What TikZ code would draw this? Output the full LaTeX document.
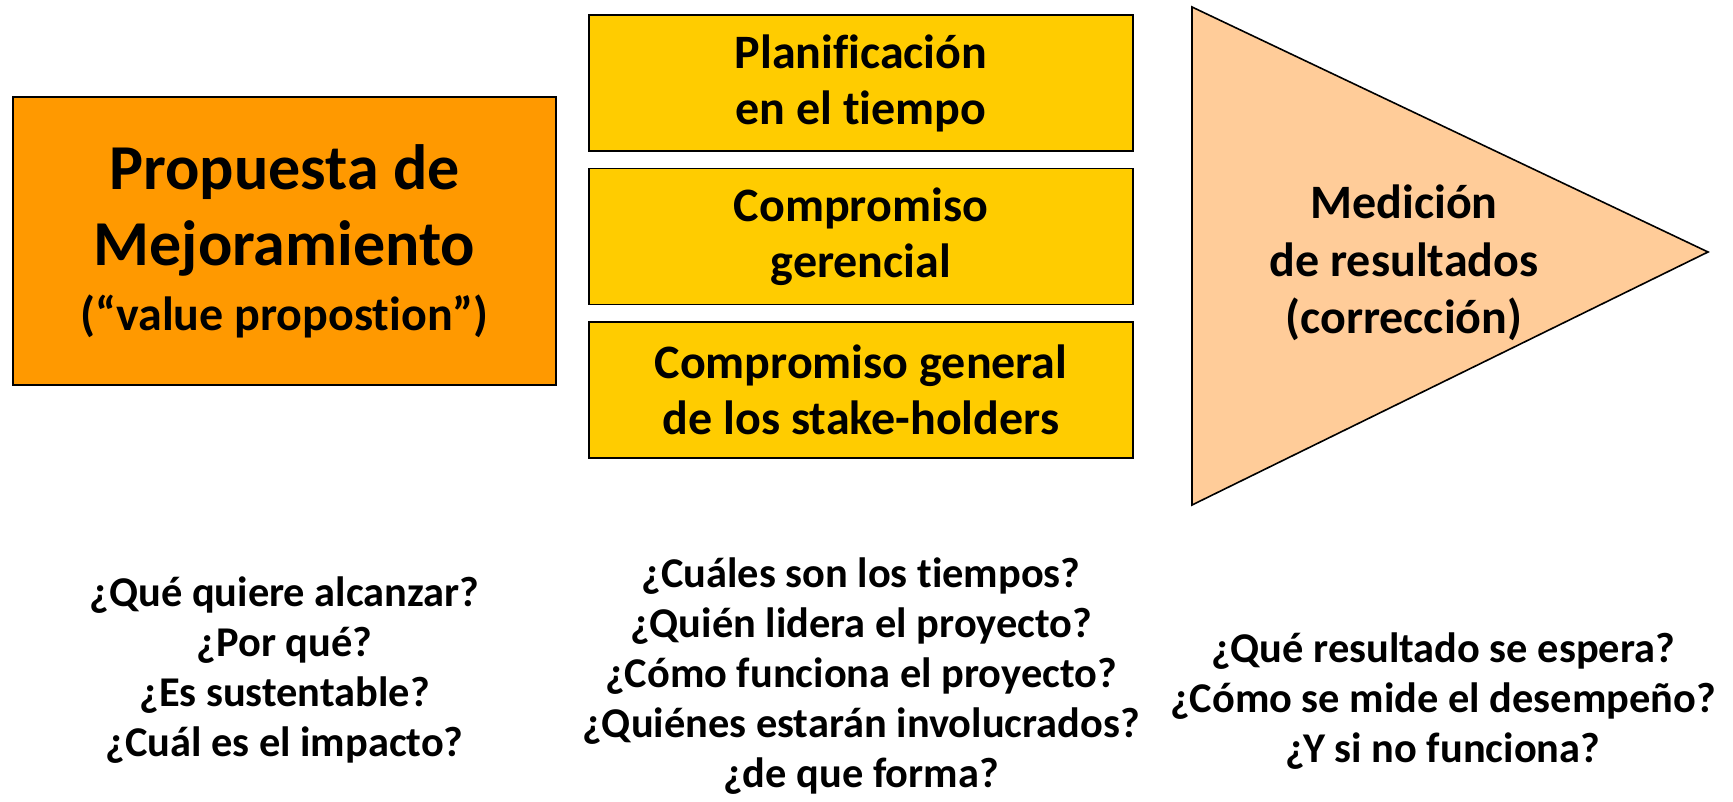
\documentclass[tikz,border=0pt]{standalone}
\usepackage{fontspec}
\setmainfont{Carlito}[Ligatures=NoCommon]
\usepackage{xcolor}
\usetikzlibrary{positioning}

\definecolor{propfill}{HTML}{FF9900}
\definecolor{planfill}{HTML}{FFCC00}
\definecolor{medfill}{HTML}{FFCC99}

\begin{document}
\begin{tikzpicture}[
        x=0.5pt, y=-0.5pt,
        node distance=8pt,
        propbox/.style={rectangle, draw, line width=0.8pt, fill=propfill, minimum width=271.5pt, minimum height=144pt, align=center, font=\bfseries\fontsize{32}{38}\selectfont},
        planbox/.style={rectangle, draw, line width=0.8pt, fill=planfill, minimum width=272pt, minimum height=68pt, align=center, font=\bfseries\fontsize{24}{28}\selectfont},
        question/.style={align=center, font=\bfseries\fontsize{21.2}{25}\selectfont}
        ]
        \useasboundingbox (0,0) rectangle (1733,802);

        % Value proposition
        \node[propbox] (prop) at (284.5,241) {Propuesta de\\ Mejoramiento\\[-5.4pt] \fontsize{24}{29}\selectfont (“value propostion”)};

        % Middle column
        \node[planbox] (plan) at (861,83) {Planificación\\ en el tiempo};
        \node[planbox, below=of plan] (gerencial) {Compromiso\\ gerencial};
        \node[planbox, below=of gerencial] (stake) {Compromiso general\\ de los stake-holders};

        % Measurement triangle
        \coordinate (T1) at (1192,7);
        \coordinate (T2) at (1708,252);
        \coordinate (T3) at (1192,505);
        \draw[line width=0.8pt, fill=medfill] (T1) -- (T2) -- (T3) -- cycle;
        \node[align=center, font=\bfseries\fontsize{24}{28.8}\selectfont] (medicion) at (1404,263) {Medición\\ de resultados\\ (corrección)};

        % Questions
        \node[question] (qprop) at (284.5,670.5) {¿Qué quiere alcanzar?\\ ¿Por qué?\\ ¿Es sustentable?\\ ¿Cuál es el impacto?};
        \node[question] (qplan) at (861,676.5) {¿Cuáles son los tiempos?\\ ¿Quién lidera el proyecto?\\ ¿Cómo funciona el proyecto?\\ ¿Quiénes estarán involucrados?\\ ¿de que forma?};
        \node[question] (qmed) at (1443,701.5) {¿Qué resultado se espera?\\ ¿Cómo se mide el desempeño?\\ ¿Y si no funciona?};

    \end{tikzpicture}
\end{document}
